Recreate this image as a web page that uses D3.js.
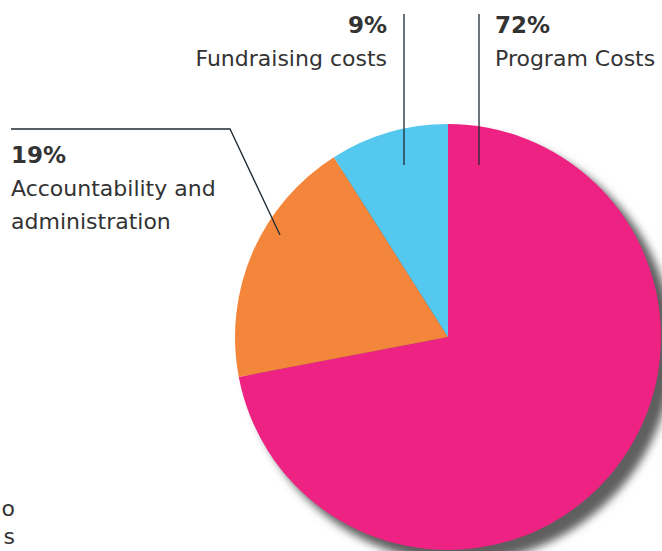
<!DOCTYPE html>
<html>
<head>
<meta charset="utf-8">
<script src="https://cdn.jsdelivr.net/npm/d3@7"></script>
<style>
  body { margin: 0; background: #fff; }
  svg { display: block; }
  text { font-family: "DejaVu Sans", sans-serif; fill: #333; }
</style>
</head>
<body>
<div id="chart"></div>
<script>
// slice data, clockwise from 12 o'clock
const categories = ["Program Costs", "Accountability and administration", "Fundraising costs"];
const values = [72, 19, 9];
const colours = ["#ee2282", "#f4863b", "#55c8f0"];

const width = 662, height = 551;
const cx = 448, cy = 337, radius = 213;

const svg = d3.select("#chart").append("svg")
    .attr("width", width)
    .attr("height", height);

// soft shadow below the pie
let defs = svg.append("defs");
let filter = defs.append("filter")
    .attr("id", "shadow")
    .attr("x", "-20%").attr("y", "-20%")
    .attr("width", "140%").attr("height", "140%");
filter.append("feGaussianBlur").attr("stdDeviation", 4.5);

svg.append("circle")
    .attr("cx", cx + 11)
    .attr("cy", cy + 11)
    .attr("r", radius + 1)
    .attr("fill", "#5e5e5e")
    .attr("filter", "url(#shadow)");

let pie = d3.pie().sort(null).startAngle(0).endAngle(2 * Math.PI);
let arc = d3.arc().innerRadius(0).outerRadius(radius);
let slices = pie(values);

let g = svg.append("g").attr("transform", `translate(${cx},${cy})`);
g.selectAll("path")
    .data(slices)
    .enter()
    .append("path")
    .attr("d", arc)
    .attr("fill", (d, i) => colours[i]);

// leader lines
let lineG = svg.append("g")
    .attr("fill", "none")
    .attr("stroke", "#1e2a33")
    .attr("stroke-width", 1.3);

lineG.append("line").attr("x1", 479).attr("y1", 14).attr("x2", 479).attr("y2", 165);
lineG.append("line").attr("x1", 404).attr("y1", 14).attr("x2", 404).attr("y2", 165);
lineG.append("polyline").attr("points", "11,129 230,129 280,235");

// labels
const fs = 22;
function label(x, y, anchor, pct, lines) {
    let t = svg.append("g");
    t.append("text")
        .attr("x", x).attr("y", y)
        .attr("text-anchor", anchor)
        .style("font-size", (fs + 1) + "px")
        .style("font-weight", "bold")
        .text(pct + "%");
    lines.forEach((l, i) => {
        t.append("text")
            .attr("x", x).attr("y", y + 33 * (i + 1))
            .attr("text-anchor", anchor)
            .style("font-size", fs + "px")
            .text(l);
    });
}

label(495, 33, "start", values[0], [categories[0]]);
label(387, 33, "end", values[2], [categories[2]]);
label(11, 163, "start", values[1], ["Accountability and", "administration"]);

// partly cut-off label at the lower left edge
svg.append("text").attr("x", 15).attr("y", 516).attr("text-anchor", "end")
    .style("font-size", fs + "px").text("o");
svg.append("text").attr("x", 15).attr("y", 544).attr("text-anchor", "end")
    .style("font-size", fs + "px").text("s");
</script>
</body>
</html>
